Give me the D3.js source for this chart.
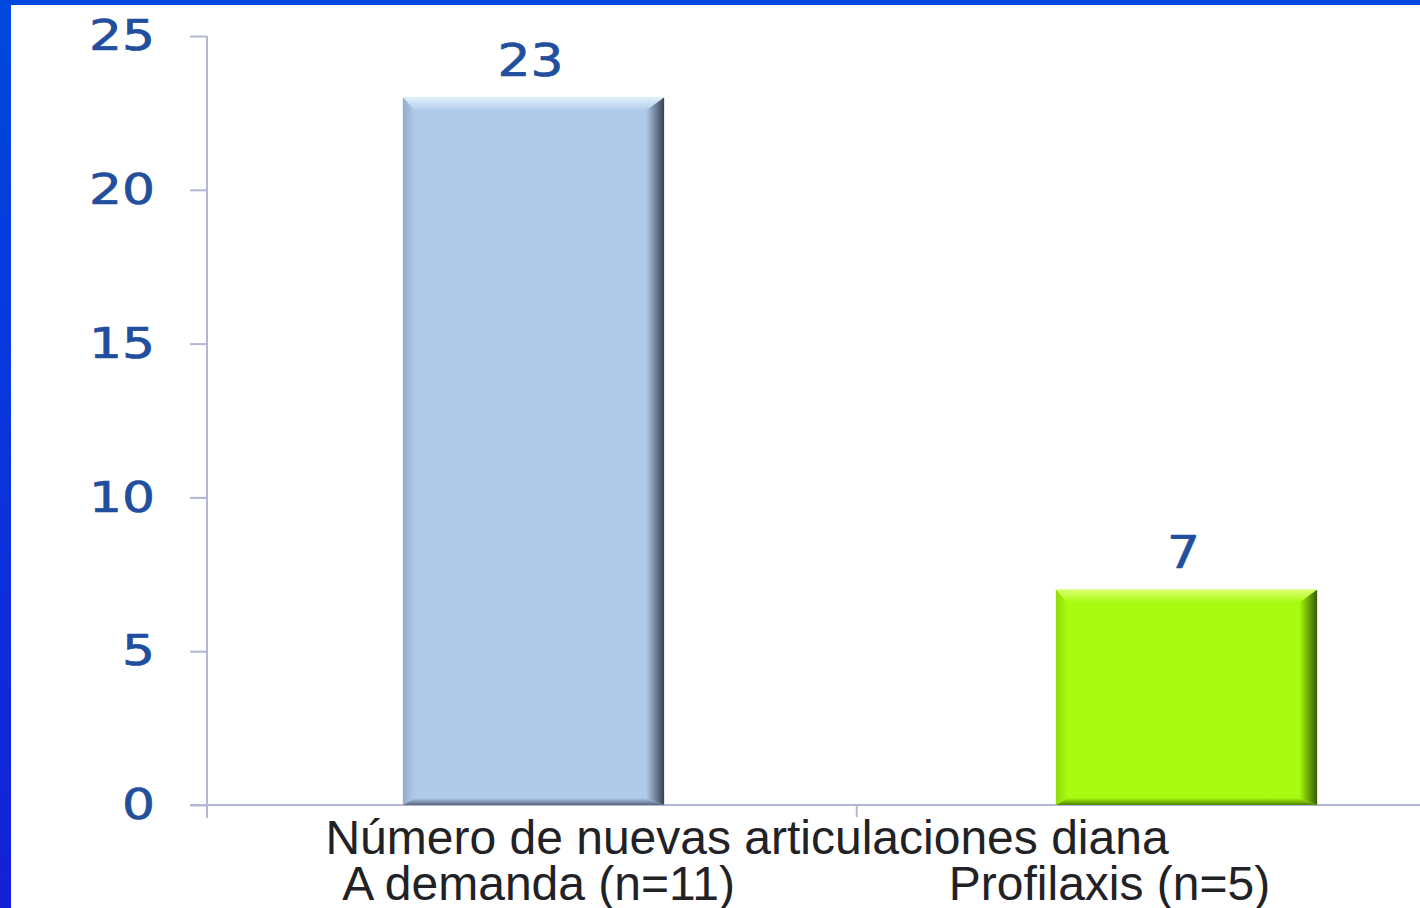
<!DOCTYPE html>
<html><head><meta charset="utf-8">
<script src="https://cdn.jsdelivr.net/npm/d3@7"></script>
<style>html,body{margin:0;padding:0;background:#fff;overflow:hidden}</style>
</head><body>
<svg id="c" width="1420" height="908"></svg>
<script>
const categories = ["A demanda (n=11)", "Profilaxis (n=5)"];
const values = [23, 7];
const yTicks = [0, 5, 10, 15, 20, 25];
const axisTitle = "Número de nuevas articulaciones diana";
const barColors = [
  {main:"#b0cbe9", top:"#e0f0fc", left:"#94abca", right:"#36424f", bottom:"#56667c"},
  {main:"#a9fc10", top:"#dcff70", left:"#92dc0a", right:"#365c00", bottom:"#4f7f00"}
];

const svg = d3.select("#c");
const W = 1420, H = 908;
const defs = svg.append("defs");
const fg = defs.append("linearGradient").attr("id","frame").attr("x1",0).attr("y1",0).attr("x2",0).attr("y2",1);
fg.append("stop").attr("offset",0).attr("stop-color","#0048e0");
fg.append("stop").attr("offset",1).attr("stop-color","#1420d8");
svg.append("rect").attr("width", W).attr("height", H).attr("fill", "url(#frame)");
svg.append("rect").attr("x", 11).attr("y", 5).attr("width", W-11).attr("height", H-5).attr("fill", "#fff");

const y = d3.scaleLinear().domain([0, 25]).range([805, 36]);
const x = d3.scaleBand().domain(categories).range([207, 1513]).paddingInner(0.6).paddingOuter(0.3);
const step = x.step();
const axisColor = "#b4b6d6";
const numColor = "#214f9e";
const digitW = 33;

// y axis
const yAxis = svg.append("g").attr("transform", "translate(207,0)")
  .call(d3.axisLeft(y).tickValues(yTicks).tickSize(17).tickPadding(35));
yAxis.select(".domain").remove();
yAxis.selectAll(".tick line").attr("stroke", axisColor).attr("stroke-width", 2);
yAxis.selectAll(".tick text").attr("fill", numColor).attr("font-family", "DejaVu Sans")
  .attr("font-size", 43).attr("stroke", numColor).attr("stroke-width", 0.7)
  .attr("textLength", d => String(d).length * digitW).attr("lengthAdjust", "spacingAndGlyphs");
svg.append("line").attr("x1", 207).attr("x2", 207).attr("y1", y(25)).attr("y2", y(0) + 13)
  .attr("stroke", axisColor).attr("stroke-width", 2);

// x axis
svg.append("line").attr("x1", 190).attr("x2", W).attr("y1", y(0)).attr("y2", y(0))
  .attr("stroke", axisColor).attr("stroke-width", 2);
const boundaries = categories.slice(1).map(c => x(c) - step * x.paddingInner() / 2 - step*0.005);
svg.selectAll(".xt").data(boundaries).join("line")
  .attr("x1", d => d).attr("x2", d => d).attr("y1", y(0)).attr("y2", y(0) + 12)
  .attr("stroke", axisColor).attr("stroke-width", 2);

// bevel gradients
barColors.forEach((c, i) => {
  const mk = (id, x1, y1, x2, y2, a, b) => {
    const g = defs.append("linearGradient").attr("id", id + i)
      .attr("x1", x1).attr("y1", y1).attr("x2", x2).attr("y2", y2);
    g.append("stop").attr("offset", 0).attr("stop-color", a);
    g.append("stop").attr("offset", 1).attr("stop-color", b);
  };
  mk("gt", 0, 0, 0, 1, c.top, c.main);
  mk("gr", 0, 0, 1, 0, c.main, c.right);
  mk("gb", 0, 0, 0, 1, c.main, c.bottom);
  mk("gl", 0, 0, 1, 0, c.left, c.main);
});

const bars = svg.selectAll(".bar").data(values).join("g").attr("class", "bar");
bars.each(function(v, i) {
  const g = d3.select(this);
  const x0 = x(categories[i]), x1 = x0 + x.bandwidth();
  const y0 = y(v), y1 = y(0);
  const bt = 13, br = 18, bb = 7, bl = 12;
  g.append("rect").attr("x", x0).attr("y", y0).attr("width", x1 - x0).attr("height", y1 - y0)
    .attr("fill", barColors[i].main);
  const poly = (pts, fill) => g.append("polygon").attr("points", pts.map(p => p.join(",")).join(" ")).attr("fill", fill);
  poly([[x0, y0], [x1, y0], [x1 - br, y0 + bt], [x0 + bl, y0 + bt]], `url(#gt${i})`);
  poly([[x1, y0], [x1, y1], [x1 - br, y1 - bb], [x1 - br, y0 + bt]], `url(#gr${i})`);
  poly([[x0, y1], [x1, y1], [x1 - br, y1 - bb], [x0 + bl, y1 - bb]], `url(#gb${i})`);
  poly([[x0, y0], [x0 + bl, y0 + bt], [x0 + bl, y1 - bb], [x0, y1]], `url(#gl${i})`);
});

// value labels
svg.selectAll(".vl").data(values).join("text")
  .attr("x", (d, i) => x(categories[i]) + x.bandwidth() / 2 - 3)
  .attr("y", d => y(d) - 22)
  .attr("text-anchor", "middle").attr("font-family", "DejaVu Sans").attr("font-size", 44)
  .attr("fill", numColor).attr("stroke", numColor).attr("stroke-width", 0.7)
  .attr("textLength", d => String(d).length * digitW).attr("lengthAdjust", "spacingAndGlyphs")
  .text(d => d);

// axis title & category labels
svg.append("text").attr("x", 747).attr("y", 854).attr("text-anchor", "middle")
  .attr("font-family", "Liberation Sans, Arial").attr("font-size", 48).attr("fill", "#222226")
  .text(axisTitle);
const labelShift = [5, -77];
svg.selectAll(".cl").data(categories).join("text")
  .attr("x", (d, i) => x(d) + x.bandwidth() / 2 + labelShift[i])
  .attr("y", 900).attr("text-anchor", "middle")
  .attr("font-family", "Liberation Sans, Arial").attr("font-size", 48).attr("fill", "#222226")
  .text(d => d);
</script>
</body></html>
